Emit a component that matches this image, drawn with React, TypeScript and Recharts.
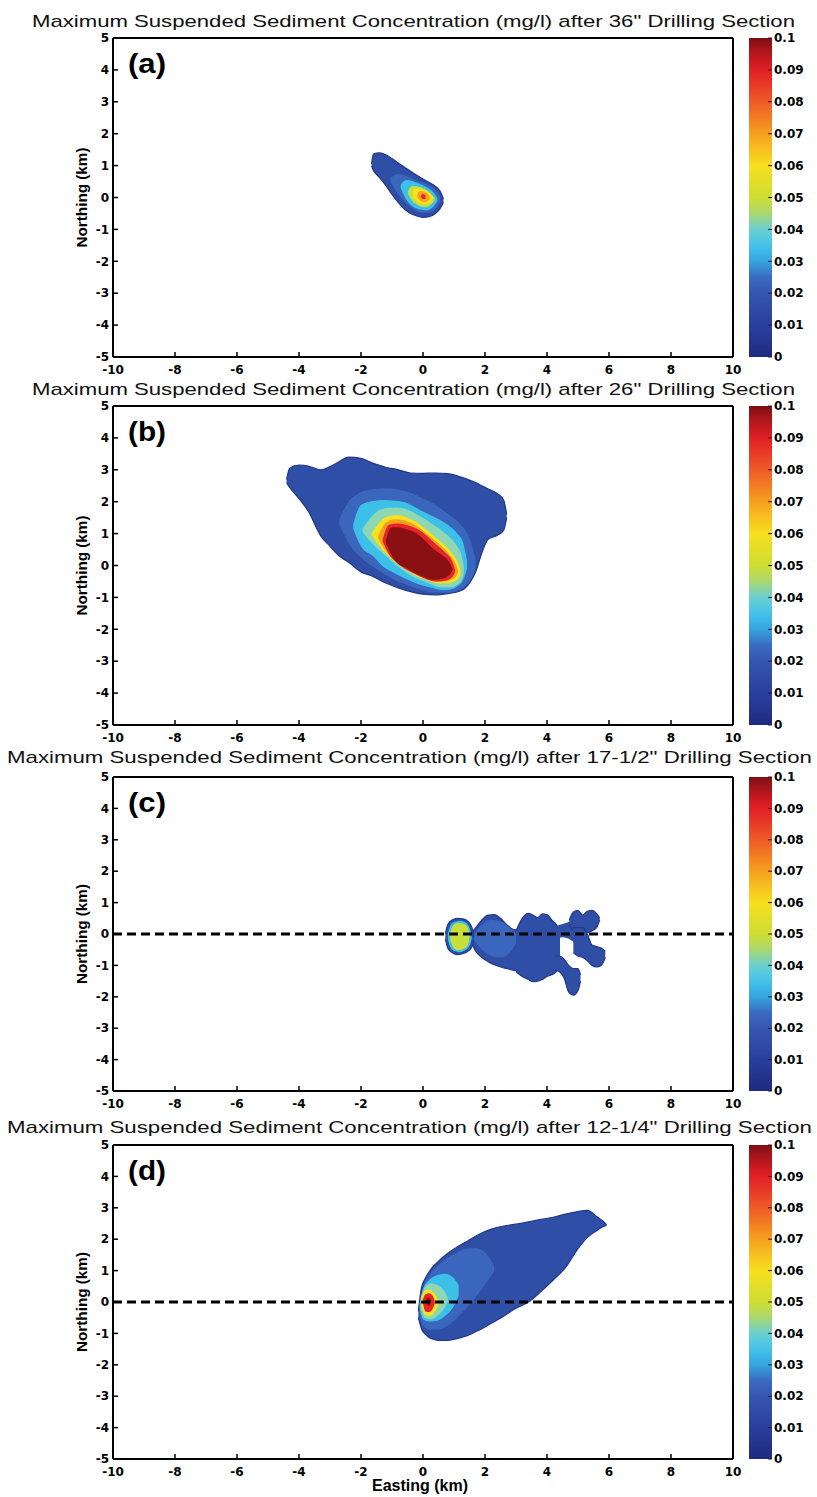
import { ComposedChart, Area, Bar, XAxis, YAxis, ReferenceLine } from 'recharts';

// [x, low, high] in km; each band is one filled concentration level
type Band = [number, number, number];

const X_TICKS = [-10, -8, -6, -4, -2, 0, 2, 4, 6, 8, 10];
const Y_TICKS = [-5, -4, -3, -2, -1, 0, 1, 2, 3, 4, 5];
const CB_TICKS = [0, 0.01, 0.02, 0.03, 0.04, 0.05, 0.06, 0.07, 0.08, 0.09, 0.1];

const TITLES = [
  'Maximum Suspended Sediment Concentration (mg/l) after 36" Drilling Section',
  'Maximum Suspended Sediment Concentration (mg/l) after 26" Drilling Section',
  'Maximum Suspended Sediment Concentration (mg/l) after 17-1/2" Drilling Section',
  'Maximum Suspended Sediment Concentration (mg/l) after 12-1/4" Drilling Section',
];
const TAGS = ['(a)', '(b)', '(c)', '(d)'];

// colour scale (fraction of 0.1 mg/l)
const CB_STOPS = [0, 0.1, 0.2, 0.25, 0.3, 0.35, 0.4, 0.45, 0.5, 0.6, 0.65, 0.7, 0.8, 0.9, 0.95, 1];
const CB_COLORS = [
  '#1f2a7f', '#2a3f9c', '#3656b0', '#3a6bc2', '#35a5de', '#44c3ea', '#6ccfd0', '#a8d870',
  '#cfdd34', '#f6df1e', '#f8c020', '#f6a01f', '#ef5a28', '#e21f26', '#b8161d', '#7c0f12',
];
const CB_DATA = [{ k: 'bar', v: 0.1 }];

const LV = {
  edge: '#2f4ea5',
  pale: '#3b66bd',
  cyan: '#3cc0e8',
  aqua: '#8ed7b2',
  lime: '#c9de38',
  yellow: '#f6e31d',
  orange: '#f6a01f',
  red: '#e5232a',
  maroon: '#8a1013',
};

// ---- (a) 36" section
const A_EDGE: Band[] = [
  [-1.66, 0.98, 1.05], [-1.6, 0.85, 1.36], [-1.4, 0.62, 1.4], [-1.2, 0.38, 1.34], [-1.0, 0.1, 1.22],
  [-0.8, -0.15, 1.08], [-0.6, -0.36, 0.95], [-0.4, -0.5, 0.82], [-0.2, -0.58, 0.7], [0, -0.62, 0.58],
  [0.2, -0.6, 0.47], [0.4, -0.5, 0.35], [0.55, -0.35, 0.2], [0.66, -0.15, -0.05],
];
const A_PALE: Band[] = [
  [-1.05, 0.5, 0.62], [-0.8, 0.1, 0.74], [-0.6, -0.12, 0.7], [-0.4, -0.3, 0.62], [-0.2, -0.42, 0.53],
  [0, -0.48, 0.46], [0.2, -0.46, 0.38], [0.4, -0.36, 0.25], [0.55, -0.12, 0.02],
];
const A_CYAN: Band[] = [
  [-0.72, 0.3, 0.4], [-0.55, -0.05, 0.55], [-0.35, -0.27, 0.52], [-0.1, -0.38, 0.42], [0.1, -0.4, 0.33],
  [0.3, -0.32, 0.2], [0.46, -0.12, -0.02],
];
const A_LIME: Band[] = [
  [-0.48, 0.1, 0.2], [-0.35, -0.1, 0.36], [-0.15, -0.24, 0.34], [0.05, -0.3, 0.27], [0.22, -0.25, 0.16],
  [0.38, -0.08, -0.02],
];
const A_YELLOW: Band[] = [
  [-0.32, 0.02, 0.2], [-0.2, -0.12, 0.28], [-0.05, -0.2, 0.26], [0.1, -0.22, 0.2], [0.25, -0.15, 0.1],
  [0.32, -0.05, 0.02],
];
const A_ORANGE: Band[] = [[-0.18, 0.0, 0.12], [-0.08, -0.1, 0.2], [0.05, -0.14, 0.18], [0.16, -0.1, 0.1], [0.22, -0.03, 0.02]];
const A_RED: Band[] = [[-0.06, 0.0, 0.08], [0.0, -0.05, 0.11], [0.08, -0.04, 0.06]];

// ---- (b) 26" section
const B_EDGE: Band[] = [
  [-4.4, 2.6, 2.7], [-4.3, 2.45, 3.05], [-4.0, 2.1, 3.15], [-3.7, 1.7, 3.12], [-3.3, 0.93, 3.0],
  [-3.0, 0.6, 3.1], [-2.7, 0.3, 3.26], [-2.4, 0.1, 3.4], [-2.0, -0.2, 3.36], [-1.6, -0.35, 3.2],
  [-1.2, -0.55, 3.08], [-0.8, -0.7, 3.0], [-0.4, -0.82, 2.9], [0, -0.9, 2.89], [0.4, -0.92, 2.9],
  [0.8, -0.88, 2.88], [1.2, -0.8, 2.78], [1.5, -0.55, 2.68], [1.7, -0.2, 2.6], [1.9, 0.4, 2.5],
  [2.1, 0.82, 2.4], [2.4, 0.95, 2.25], [2.6, 1.1, 2.05], [2.7, 1.5, 1.6],
];
const B_PALE: Band[] = [
  [-2.7, 1.3, 1.45], [-2.4, 0.7, 2.0], [-2.0, 0.25, 2.3], [-1.6, -0.05, 2.4], [-1.2, -0.3, 2.42],
  [-0.8, -0.5, 2.38], [-0.4, -0.65, 2.28], [0, -0.78, 2.1], [0.4, -0.85, 1.9], [0.8, -0.85, 1.62],
  [1.2, -0.75, 1.3], [1.5, -0.5, 0.85], [1.7, -0.1, 0.2],
];
const B_CYAN: Band[] = [
  [-2.25, 1.15, 1.3], [-2.0, 0.6, 1.9], [-1.6, 0.28, 2.02], [-1.28, -0.04, 2.05], [-0.9, -0.25, 2.03],
  [-0.5, -0.45, 1.95], [-0.1, -0.6, 1.74], [0.3, -0.7, 1.55], [0.6, -0.77, 1.4], [0.9, -0.75, 1.2],
  [1.1, -0.66, 1.01], [1.3, -0.45, 0.7], [1.42, -0.1, 0.15],
];
const B_AQUA: Band[] = [
  [-1.95, 1.05, 1.15], [-1.6, 0.65, 1.6], [-1.2, 0.3, 1.8], [-0.85, 0.0, 1.82], [-0.5, -0.25, 1.75],
  [-0.1, -0.45, 1.55], [0.3, -0.6, 1.3], [0.6, -0.68, 1.1], [0.9, -0.68, 0.85], [1.1, -0.6, 0.6],
  [1.25, -0.45, 0.3], [1.32, -0.2, -0.05],
];
const B_YELLOW: Band[] = [
  [-1.66, 0.95, 1.0], [-1.4, 0.6, 1.35], [-1.17, 0.35, 1.53], [-0.85, 0.07, 1.58], [-0.5, -0.15, 1.5],
  [-0.2, -0.33, 1.35], [0.12, -0.45, 1.11], [0.45, -0.56, 0.85], [0.76, -0.56, 0.59], [1.0, -0.5, 0.3],
  [1.15, -0.4, 0.05], [1.22, -0.22, -0.18],
];
const B_ORANGE: Band[] = [
  [-1.45, 0.85, 0.9], [-1.2, 0.45, 1.35], [-0.9, 0.15, 1.45], [-0.6, -0.05, 1.42], [-0.3, -0.22, 1.3],
  [0.0, -0.36, 1.1], [0.3, -0.48, 0.85], [0.6, -0.52, 0.6], [0.9, -0.45, 0.28], [1.08, -0.32, 0.0],
  [1.13, -0.2, -0.15],
];
const B_RED: Band[] = [
  [-1.3, 0.75, 0.82], [-1.1, 0.35, 1.28], [-0.8, 0.05, 1.32], [-0.5, -0.15, 1.26], [-0.2, -0.3, 1.15],
  [0.1, -0.43, 0.95], [0.4, -0.5, 0.68], [0.7, -0.48, 0.42], [0.95, -0.35, 0.12], [1.03, -0.22, -0.12],
];
const B_CORE: Band[] = [
  [-1.2, 0.7, 0.8], [-1.0, 0.3, 1.2], [-0.8, 0.05, 1.2], [-0.6, -0.05, 1.15], [-0.3, -0.22, 1.06],
  [0, -0.35, 0.85], [0.3, -0.45, 0.55], [0.6, -0.42, 0.33], [0.85, -0.3, 0.1], [0.95, -0.15, -0.1],
];

// ---- (c) 17-1/2" section
const C_BLUE_1: Band[] = [
  [1.55, -0.25, 0.0], [1.7, -0.55, 0.2], [1.9, -0.75, 0.45], [2.1, -0.88, 0.6], [2.3, -0.98, 0.62],
  [2.5, -1.05, 0.5], [2.7, -1.1, 0.3], [2.9, -1.15, 0.15], [3.1, -1.2, 0.12],
];
const C_BLUE_2: Band[] = [
  [3.0, -1.2, 0.1], [3.2, -1.35, 0.5], [3.4, -1.45, 0.66], [3.55, -1.52, 0.6], [3.7, -1.5, 0.52],
  [3.85, -1.45, 0.64], [4.0, -1.35, 0.62], [4.15, -1.3, 0.45], [4.3, -1.2, 0.3], [4.42, -0.9, 0.1],
];
const C_BLUE_3: Band[] = [
  [4.25, -1.15, -0.7], [4.4, -1.2, -0.7], [4.55, -1.4, -0.8], [4.7, -1.85, -1.0], [4.85, -1.95, -1.1],
  [5.0, -1.8, -1.1], [5.08, -1.5, -1.3],
];
const C_BLUE_4: Band[] = [[4.3, -0.15, 0.25], [4.5, -0.1, 0.32], [4.7, -0.15, 0.38], [4.9, -0.3, 0.45]];
const C_BLUE_5: Band[] = [
  [4.72, 0.3, 0.45], [4.85, 0.1, 0.7], [5.0, 0.05, 0.75], [5.15, 0.1, 0.6], [5.3, 0.05, 0.72],
  [5.45, 0.1, 0.75], [5.6, 0.2, 0.65], [5.7, 0.45, 0.5],
];
const C_BLUE_6: Band[] = [
  [4.85, -0.6, 0.2], [5.0, -0.7, 0.2], [5.15, -0.75, 0.2], [5.3, -0.85, 0.0], [5.45, -1.0, -0.35],
  [5.6, -1.05, -0.4], [5.75, -1.0, -0.45], [5.88, -0.75, -0.55],
];
const C_PALE: Band[] = [[1.65, -0.2, 0.0], [1.9, -0.5, 0.3], [2.2, -0.7, 0.45], [2.5, -0.75, 0.4], [2.8, -0.6, 0.2], [3.0, -0.3, 0.0]];
const C_SPOT_EDGE: Band[] = [
  [0.72, -0.15, 0.0], [0.8, -0.45, 0.3], [0.95, -0.6, 0.45], [1.1, -0.66, 0.5], [1.3, -0.62, 0.48],
  [1.45, -0.55, 0.4], [1.58, -0.4, 0.2], [1.63, -0.2, -0.1],
];
const C_SPOT_CYAN: Band[] = [
  [0.8, -0.15, 0.0], [0.9, -0.45, 0.3], [1.05, -0.55, 0.4], [1.2, -0.58, 0.42], [1.35, -0.52, 0.38],
  [1.5, -0.38, 0.2], [1.57, -0.15, -0.05],
];
const C_SPOT_LIME: Band[] = [[0.88, -0.2, 0.05], [1.0, -0.45, 0.3], [1.15, -0.52, 0.35], [1.3, -0.48, 0.33], [1.45, -0.35, 0.2], [1.5, -0.1, 0.0]];

// ---- (d) 12-1/4" section
const D_EDGE: Band[] = [
  [-0.15, -0.5, -0.3], [-0.05, -0.85, 0.45], [0.1, -1.05, 0.8], [0.3, -1.18, 1.1], [0.5, -1.22, 1.3],
  [0.8, -1.22, 1.55], [1.1, -1.17, 1.75], [1.4, -1.08, 1.92], [1.8, -0.9, 2.15], [2.2, -0.68, 2.32],
  [2.6, -0.45, 2.42], [3.0, -0.2, 2.48], [3.4, 0.0, 2.55], [3.8, 0.33, 2.63], [4.2, 0.7, 2.7],
  [4.6, 1.1, 2.8], [5.0, 1.7, 2.88], [5.3, 2.05, 2.92], [5.45, 2.17, 2.85], [5.6, 2.27, 2.72],
  [5.8, 2.4, 2.58], [5.92, 2.44, 2.46],
];
const D_PALE: Band[] = [
  [-0.12, -0.4, -0.1], [0.0, -0.75, 0.45], [0.2, -0.88, 0.85], [0.5, -0.88, 1.18], [0.8, -0.75, 1.42],
  [1.1, -0.5, 1.58], [1.4, -0.2, 1.7], [1.7, 0.15, 1.72], [2.0, 0.55, 1.58], [2.3, 0.98, 1.15],
];
const D_CYAN: Band[] = [
  [-0.1, -0.25, 0.0], [0.0, -0.55, 0.4], [0.2, -0.62, 0.7], [0.45, -0.6, 0.85], [0.7, -0.45, 0.9],
  [0.95, -0.2, 0.8], [1.15, 0.2, 0.55],
];
const D_AQUA: Band[] = [[-0.08, -0.2, 0.1], [0.05, -0.5, 0.45], [0.25, -0.55, 0.6], [0.45, -0.45, 0.55], [0.65, -0.25, 0.4], [0.8, 0.0, 0.15]];
const D_YELLOW: Band[] = [[-0.05, -0.1, 0.15], [0.05, -0.4, 0.35], [0.2, -0.45, 0.4], [0.35, -0.35, 0.3], [0.5, -0.1, 0.05]];
const D_RED: Band[] = [[0.0, -0.05, 0.1], [0.08, -0.3, 0.25], [0.2, -0.32, 0.28], [0.32, -0.2, 0.18], [0.38, -0.05, 0.02]];
const D_CORE: Band[] = [[0.1, -0.05, 0.1], [0.18, -0.12, 0.15], [0.26, -0.02, 0.05]];

type Layer = { band: Band[]; color: string; rim?: boolean };

const PANELS: { layers: Layer[]; dashed: boolean }[] = [
  {
    dashed: false,
    layers: [
      { band: A_EDGE, color: LV.edge, rim: true },
      { band: A_PALE, color: LV.pale },
      { band: A_CYAN, color: LV.cyan },
      { band: A_LIME, color: LV.lime },
      { band: A_YELLOW, color: LV.yellow },
      { band: A_ORANGE, color: LV.orange },
      { band: A_RED, color: LV.red },
    ],
  },
  {
    dashed: false,
    layers: [
      { band: B_EDGE, color: LV.edge, rim: true },
      { band: B_PALE, color: LV.pale },
      { band: B_CYAN, color: LV.cyan },
      { band: B_AQUA, color: LV.aqua },
      { band: B_YELLOW, color: LV.yellow },
      { band: B_ORANGE, color: LV.orange },
      { band: B_RED, color: LV.red },
      { band: B_CORE, color: LV.maroon },
    ],
  },
  {
    dashed: true,
    layers: [
      { band: C_BLUE_1, color: LV.edge, rim: true },
      { band: C_BLUE_2, color: LV.edge, rim: true },
      { band: C_BLUE_3, color: LV.edge, rim: true },
      { band: C_BLUE_4, color: LV.edge },
      { band: C_BLUE_5, color: LV.edge, rim: true },
      { band: C_BLUE_6, color: LV.edge, rim: true },
      { band: C_PALE, color: LV.pale },
      { band: C_SPOT_EDGE, color: LV.edge, rim: true },
      { band: C_SPOT_CYAN, color: LV.cyan },
      { band: C_SPOT_LIME, color: LV.lime },
    ],
  },
  {
    dashed: true,
    layers: [
      { band: D_EDGE, color: LV.edge, rim: true },
      { band: D_PALE, color: LV.pale },
      { band: D_CYAN, color: LV.cyan },
      { band: D_AQUA, color: LV.aqua },
      { band: D_YELLOW, color: LV.yellow },
      { band: D_RED, color: LV.red },
      { band: D_CORE, color: LV.maroon },
    ],
  },
];

// page layout (px)
const PLOT_TOP = [38, 406, 777, 1145];
const PLOT_BOTTOM = [357, 725, 1091, 1459];
const TITLE_Y = [27, 395, 763, 1133];
const TITLE_X = [32, 32, 7, 7];
const TITLE_W = [763, 763, 805, 805];

const TICK_FONT = { fill: '#000', fontSize: 12, fontWeight: 700, fontFamily: 'DejaVu Sans' };
const AXIS_LINE = { stroke: '#000', strokeWidth: 2 };
const TICK_LINE = { stroke: '#000', strokeWidth: 1.5 };

const rows = (band: Band[]) => band.map(([x, lo, hi]) => ({ x, r: [lo, hi] }));

function Panel({ idx }: { idx: number }) {
  const top = PLOT_TOP[idx];
  const plotH = PLOT_BOTTOM[idx] - top;
  const mTop = 8;
  const topAxisH = 2;
  const bottomAxisH = 30;
  const { layers, dashed } = PANELS[idx];
  return (
    <div style={{ position: 'absolute', left: 0, top: top - mTop - topAxisH }}>
      <ComposedChart
        width={817}
        height={mTop + topAxisH + plotH + bottomAxisH}
        margin={{ top: mTop, right: 82, bottom: 0, left: 73 }}
      >
        {layers.map((l, i) => (
          <Area
            key={i}
            data={rows(l.band)}
            dataKey="r"
            type="monotone"
            fill={l.color}
            fillOpacity={1}
            stroke={l.rim ? '#24388d' : 'none'}
            strokeWidth={l.rim ? 1.2 : 0}
            dot={false}
            activeDot={false}
            isAnimationActive={false}
          />
        ))}
        {dashed && <ReferenceLine y={0} stroke="#000" strokeWidth={3} strokeDasharray="9 5" />}
        <XAxis
          dataKey="x"
          type="number"
          domain={[-10, 10]}
          ticks={X_TICKS}
          interval={0}
          allowDataOverflow
          height={bottomAxisH}
          tickSize={-5}
          tickMargin={13}
          tick={TICK_FONT}
          axisLine={AXIS_LINE}
          tickLine={TICK_LINE}
        />
        <XAxis
          xAxisId="top"
          orientation="top"
          type="number"
          domain={[-10, 10]}
          ticks={X_TICKS}
          interval={0}
          allowDataOverflow
          height={topAxisH}
          tickSize={-5}
          tick={false}
          axisLine={AXIS_LINE}
          tickLine={TICK_LINE}
        />
        <YAxis
          type="number"
          domain={[-5, 5]}
          ticks={Y_TICKS}
          interval={0}
          allowDataOverflow
          width={40}
          tickSize={-5}
          tickMargin={9}
          tick={TICK_FONT}
          axisLine={AXIS_LINE}
          tickLine={TICK_LINE}
        />
        <YAxis
          yAxisId="right"
          orientation="right"
          type="number"
          domain={[-5, 5]}
          ticks={Y_TICKS}
          interval={0}
          allowDataOverflow
          width={2}
          tickSize={-5}
          tick={false}
          axisLine={AXIS_LINE}
          tickLine={TICK_LINE}
        />
      </ComposedChart>
    </div>
  );
}

function ColorBar({ idx }: { idx: number }) {
  const top = PLOT_TOP[idx];
  const plotH = PLOT_BOTTOM[idx] - top;
  const gid = `jet-${idx}`;
  return (
    <div style={{ position: 'absolute', left: 749, top: top - 8 }}>
      <ComposedChart
        width={70}
        height={plotH + 16}
        data={CB_DATA}
        margin={{ top: 8, right: 0, bottom: 8, left: 0 }}
        barCategoryGap={0}
      >
        <defs>
          <linearGradient id={gid} x1="0" y1="1" x2="0" y2="0">
            {CB_STOPS.map((s, i) => (
              <stop key={i} offset={s} stopColor={CB_COLORS[i]} />
            ))}
          </linearGradient>
        </defs>
        <XAxis dataKey="k" hide />
        <YAxis
          orientation="right"
          type="number"
          domain={[0, 0.1]}
          ticks={CB_TICKS}
          interval={0}
          width={47}
          tickSize={-4}
          tickMargin={6}
          tick={TICK_FONT}
          axisLine={false}
          tickLine={{ stroke: '#222', strokeWidth: 1 }}
          tickFormatter={(v: number) => String(+v.toFixed(2))}
        />
        <Bar dataKey="v" fill={`url(#${gid})`} isAnimationActive={false} />
      </ComposedChart>
    </div>
  );
}

export default function App() {
  return (
    <div style={{ position: 'absolute', left: 0, top: 0, width: 817, height: 1497, background: '#fff' }}>
      {PANELS.map((_, i) => (
        <Panel key={`p${i}`} idx={i} />
      ))}
      {PANELS.map((_, i) => (
        <ColorBar key={`c${i}`} idx={i} />
      ))}
      <svg
        width={817}
        height={1497}
        style={{ position: 'absolute', left: 0, top: 0, pointerEvents: 'none' }}
      >
        {TITLES.map((t, i) => (
          <text
            key={`t${i}`}
            x={TITLE_X[i]}
            y={TITLE_Y[i]}
            textLength={TITLE_W[i]}
            lengthAdjust="spacingAndGlyphs"
            fontFamily="Liberation Sans, Arial, sans-serif"
            fontSize={17}
            fill="#111"
          >
            {t}
          </text>
        ))}
        {TAGS.map((t, i) => (
          <text
            key={`g${i}`}
            x={128}
            y={PLOT_TOP[i] + 35}
            textLength={38}
            lengthAdjust="spacingAndGlyphs"
            fontFamily="Liberation Sans, Arial, sans-serif"
            fontWeight={700}
            fontSize={27}
            fill="#000"
          >
            {t}
          </text>
        ))}
        {PLOT_TOP.map((t, i) => (
          <text
            key={`n${i}`}
            transform={`translate(87, ${(t + PLOT_BOTTOM[i]) / 2}) rotate(-90)`}
            textAnchor="middle"
            textLength={100}
            lengthAdjust="spacingAndGlyphs"
            fontFamily="Liberation Sans, Arial, sans-serif"
            fontWeight={700}
            fontSize={14}
            fill="#000"
          >
            Northing (km)
          </text>
        ))}
        <text
          x={420}
          y={1491}
          textAnchor="middle"
          fontFamily="Liberation Sans, Arial, sans-serif"
          fontWeight={700}
          fontSize={16}
          fill="#000"
        >
          Easting (km)
        </text>
      </svg>
    </div>
  );
}
